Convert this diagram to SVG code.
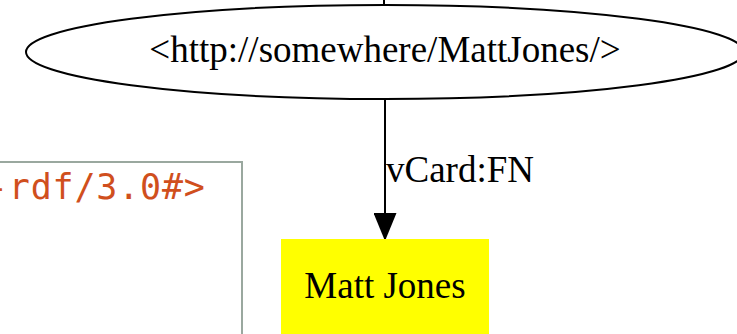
<svg xmlns="http://www.w3.org/2000/svg" width="737" height="334" viewBox="0 0 737 334">
  <style>
    .serif { font-family: "Liberation Serif", "Times New Roman", serif; font-size: 37px; fill: #000; }
    .mono { font-family: "DejaVu Sans Mono", "Liberation Mono", monospace; font-size: 35px; letter-spacing: 0.8px; fill: #d04f1d; }
    .edge { stroke: #000; stroke-width: 2; fill: none; }
  </style>
  <defs>
    <marker id="arrow" markerUnits="userSpaceOnUse" markerWidth="28" markerHeight="23" refX="28" refY="11.5" orient="auto" viewBox="0 0 28 23">
      <path d="M0,0 L28,11.5 L0,23 Z" fill="#000"/>
    </marker>
  </defs>

  <!-- code listing panel behind the graph -->
  <g id="code-panel">
    <rect x="-10" y="162" width="252" height="200" fill="#fff" stroke="#9aa89f" stroke-width="2"/>
    <text class="mono" x="-13" y="199">-rdf/3.0#&gt;</text>
  </g>

  <g id="connectors">
    <line class="edge" x1="384" y1="0" x2="384" y2="4"/>
    <line class="edge" x1="385" y1="99" x2="385" y2="241" marker-end="url(#arrow)"/>
    <text class="serif" x="386" y="182">vCard:FN</text>
  </g>

  <g id="node-mattjones-uri">
    <ellipse cx="385" cy="52" rx="359" ry="47" fill="#fff" stroke="#000" stroke-width="2"/>
    <text class="serif" x="385" y="62" text-anchor="middle">&lt;http://somewhere/MattJones/&gt;</text>
  </g>

  <g id="node-matt-jones">
    <rect x="281" y="239" width="208" height="100" fill="#ffff00"/>
    <text class="serif" x="385" y="298" text-anchor="middle">Matt Jones</text>
  </g>
</svg>
